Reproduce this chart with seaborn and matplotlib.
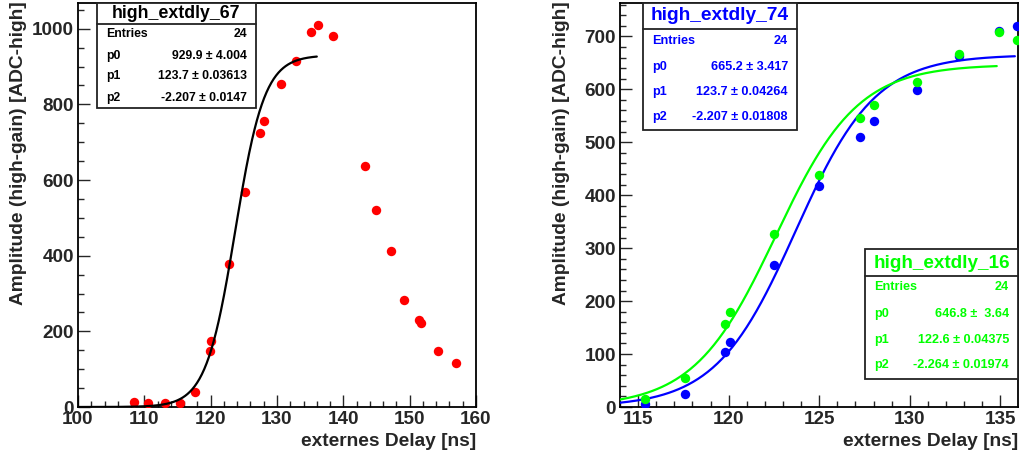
import numpy as np
import pandas as pd
import matplotlib
matplotlib.use("Agg")
import matplotlib.pyplot as plt
from matplotlib.patches import Rectangle
from matplotlib.lines import Line2D
from matplotlib.ticker import MultipleLocator
import seaborn as sns

W, H = 1020, 458

# values
delay_67 = [108.4, 110.6, 113.1, 115.4, 117.7, 119.9, 120.1, 122.7, 125.2, 127.4, 128.1, 130.6,
            132.9, 135.2, 136.2, 138.4, 143.2, 144.9, 147.2, 149.2, 151.4, 151.7, 154.2, 157.0]
amp_67 = [14, 11, 11, 10, 40, 147, 175, 377, 568, 725, 755, 855,
          914, 991, 1010, 980, 638, 521, 412, 283, 230, 222, 149, 116]

delay_r = [115.4, 117.6, 119.8, 120.1, 122.5, 125.0, 127.25, 128.0, 130.4, 132.7, 134.9, 135.9]
amp_74 = [6, 25, 104, 122, 269, 418, 509, 540, 599, 662, 711, 719]
amp_16 = [16, 54, 157, 179, 327, 438, 545, 571, 614, 667, 709, 693]

# fit parameters shown in the stat boxes: p0 / (1 + exp((x - p1) / p2))
fit_67 = [929.9, 123.7, -2.207]
fit_74 = [665.2, 123.7, -2.207]
fit_16 = [646.8, 122.6, -2.264]
fit_range_67 = [100, 136]
fit_range_74 = [100, 135.8]
fit_range_16 = [100, 134.8]

rows_67 = [("Entries", "24"), ("p0", "929.9 ± 4.004"), ("p1", "123.7 ± 0.03613"), ("p2", "-2.207 ± 0.0147")]
rows_74 = [("Entries", "24"), ("p0", "665.2 ± 3.417"), ("p1", "123.7 ± 0.04264"), ("p2", "-2.207 ± 0.01808")]
rows_16 = [("Entries", "24"), ("p0", "646.8 ±  3.64"), ("p1", "122.6 ± 0.04375"), ("p2", "-2.264 ± 0.01974")]

RED, BLUE, GREEN = "#ff0000", "#0000ff", "#00ff00"

sns.set_style("ticks")
plt.rcParams["font.family"] = ["Liberation Sans", "DejaVu Sans"]
plt.rcParams["font.weight"] = "bold"
plt.rcParams["axes.labelweight"] = "bold"


def fit_curve(p, rng):
    x = np.linspace(rng[0], rng[1], 400)
    return x, p[0] / (1 + np.exp((x - p[1]) / p[2]))


def style_axes(ax, xlim, ylim, xmaj, xmin, ymaj, ymin, ylab_x):
    ax.set_xlim(*xlim)
    ax.set_ylim(*ylim)
    ax.xaxis.set_major_locator(MultipleLocator(xmaj))
    ax.xaxis.set_minor_locator(MultipleLocator(xmin))
    ax.yaxis.set_major_locator(MultipleLocator(ymaj))
    ax.yaxis.set_minor_locator(MultipleLocator(ymin))
    ax.tick_params(which="both", direction="in", top=False, right=False, width=1.0,
                   labelsize=13.6, pad=3)
    ax.tick_params(which="major", length=8.5)
    ax.tick_params(which="minor", length=4.3)
    for s in ax.spines.values():
        s.set_linewidth(1.3)
        s.set_color("black")
        s.set_visible(True)
    ax.set_xlabel("externes Delay [ns]", fontsize=13.8, loc="right")
    ax.set_ylabel("Amplitude (high-gain) [ADC-high]", fontsize=13.8, loc="top")
    ax.xaxis.set_label_coords(1.0, -0.064)
    ax.yaxis.set_label_coords(ylab_x, 1.005)


def stat_box(fig, box, sep, title_y, rows_y, title, rows, color, title_size, row_size, pad=9):
    x0, y0, x1, y1 = box
    fig.add_artist(Rectangle((x0 / W, 1 - y1 / H), (x1 - x0) / W, (y1 - y0) / H,
                             transform=fig.transFigure, facecolor="white",
                             edgecolor="#222222", lw=1.3, zorder=10))
    fig.add_artist(Line2D([x0 / W, x1 / W], [1 - sep / H] * 2, transform=fig.transFigure,
                          color="#222222", lw=1.3, zorder=11))
    fig.text((x0 + x1) / 2 / W, 1 - title_y / H, title, ha="center", va="center",
             fontsize=title_size, fontweight="bold", color=color, zorder=12)
    for (lab, val), ry in zip(rows, rows_y):
        fig.text((x0 + pad) / W, 1 - ry / H, lab, ha="left", va="center",
                 fontsize=row_size, fontweight="bold", color=color, zorder=12)
        fig.text((x1 - pad) / W, 1 - ry / H, val, ha="right", va="center",
                 fontsize=row_size, fontweight="bold", color=color, zorder=12)


fig = plt.figure(figsize=(W / 100, H / 100), dpi=100)
ax1 = fig.add_axes([78 / W, 1 - 407 / H, 398 / W, 404 / H])
ax2 = fig.add_axes([620 / W, 1 - 407 / H, 398.5 / W, 404 / H])

# left: high_extdly_67
sns.scatterplot(x=delay_67, y=amp_67, ax=ax1, color=RED, s=46, linewidth=0, zorder=3)
fx, fy = fit_curve(fit_67, fit_range_67)
sns.lineplot(x=fx, y=fy, ax=ax1, color="black", lw=1.6, zorder=4)
style_axes(ax1, (100, 160), (0, 1068), 10, 2, 200, 50, -0.128)

# right: high_extdly_74 and high_extdly_16
sns.scatterplot(x=delay_r, y=amp_74, ax=ax2, color=BLUE, s=46, linewidth=0, zorder=3)
fx, fy = fit_curve(fit_74, fit_range_74)
sns.lineplot(x=fx, y=fy, ax=ax2, color=BLUE, lw=1.6, zorder=4)
sns.scatterplot(x=delay_r, y=amp_16, ax=ax2, color=GREEN, s=46, linewidth=0, zorder=5)
fx, fy = fit_curve(fit_16, fit_range_16)
sns.lineplot(x=fx, y=fy, ax=ax2, color=GREEN, lw=1.6, zorder=6)
style_axes(ax2, (114, 136), (0, 763), 5, 1, 100, 20, -0.125)

stat_box(fig, (97, 3, 256, 108), 24, 13.5, [34, 56, 76, 98], "high_extdly_67", rows_67,
         "black", 12.8, 8.8)
stat_box(fig, (643, 3, 797, 130), 29, 16, [41, 67, 92, 117], "high_extdly_74", rows_74,
         BLUE, 13.8, 9.1)
stat_box(fig, (865, 249, 1018, 379), 276, 263, [287, 314, 340, 365], "high_extdly_16", rows_16,
         GREEN, 13.6, 9.1)

fig.savefig("out.png", dpi=100)
